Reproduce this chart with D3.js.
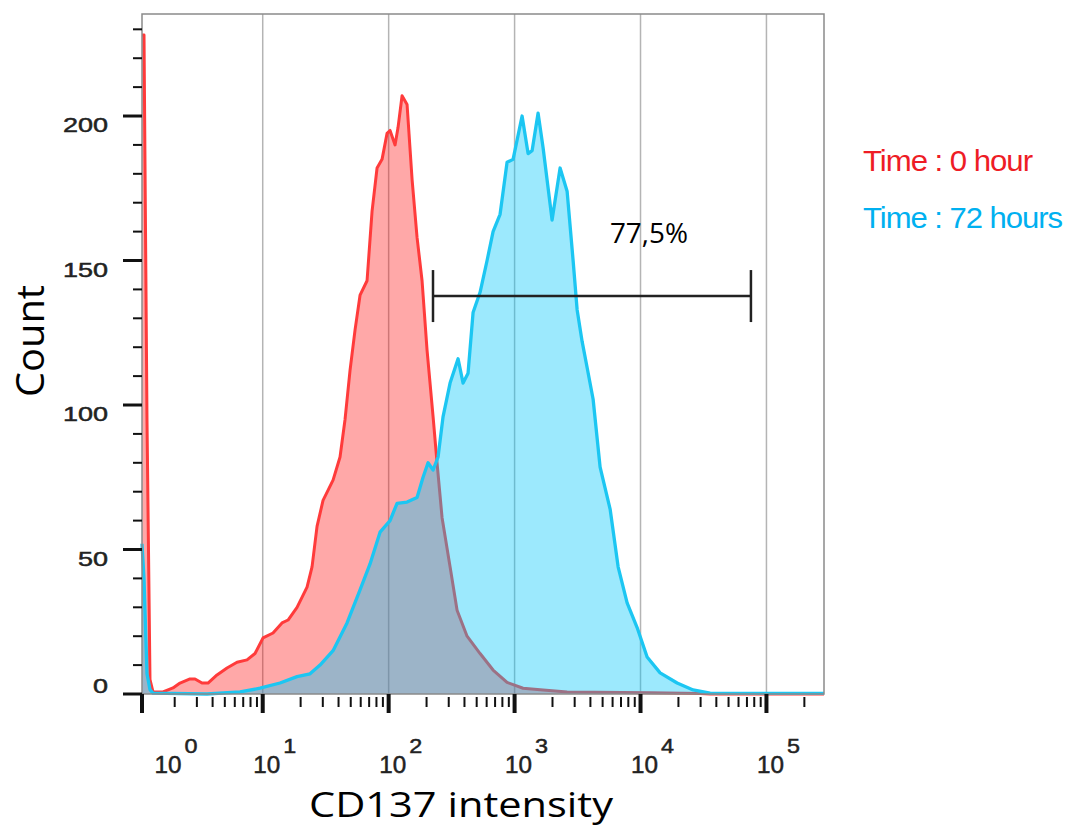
<!DOCTYPE html>
<html><head><meta charset="utf-8">
<script src="https://cdn.jsdelivr.net/npm/d3@7/dist/d3.min.js"></script>
<style>html,body{margin:0;padding:0;background:#fff;} svg{display:block;}</style>
</head><body><svg id="chart" width="1068" height="829"></svg>
<script>
// ---- data ----
const redIntensity = [1.100,1.141,1.205,1.273,1.345,1.615,1.939,2.204,2.646,2.900,3.295,3.678,4.335,5.205,6.250,7.505,8.687,10.06,12.07,14.23,15.89,18.73,22.49,24.64,27.00,30.13,36.18,41.11,45.05,49.36,54.10,59.27,67.36,73.82,80.89,88.62,97.12,102.6,112.4,118.7,127.8,140.0,153.5,168.1,184.2,201.8,225.3,242.3,265.6,307.4,349.4,419.5,532.1,674.9,871.6,1168,1684,2612,11920,29750,35710,286400];
const redCount     = [228,228,95,5,0.7,0.7,2.1,3.8,5.2,5.2,3.8,3.8,6.6,9,11,11.8,14,19.4,21.1,24.6,25.6,30,37,44,58,67,74,82,95,112,126,138,143,167,182,185,194,195,190,196,207,204,178,158,143,119,96,80,61,44,29,20,14,8.3,4,2,1.4,0.7,0.4,0.2,0,0];
const blueIntensity = [1.100,1.141,1.205,1.273,1.345,3.611,6.602,9.519,13.72,18.73,23.75,28.52,36.18,46.72,59.27,71.16,85.44,102.6,116.6,140.0,168.1,187.6,205.5,225.3,246.8,270.5,307.4,355.8,389.9,427.2,468.1,532.1,604.7,674.9,766.9,871.6,972.9,1147,1280,1377,1537,1684,1985,2298,2612,2915,3137,3437,3766,4203,4776,5735,6640,7827,9397,11280,14310,19530,26170,35710,89130,286400];
const blueCount     = [52,40,7,1.5,0.3,0,0.7,2,3.8,6,7,10,15,24.6,36,45,56,60,66,66.4,68,75,80,77.5,82,96,107.6,116,107.6,111,132,139,150,160,166,184,185,200,187,188,201,189,164,182,174,150,133,122,113,102,78.5,64,44,31.5,23,12.8,7.3,3.8,1.4,0.3,0.2,0.2];

const yMajorTicks = [0, 50, 100, 150, 200];
const yMinorStep = 10;
const xDecades = [1, 10, 100, 1000, 10000, 100000];
const xDecadeExponents = ["0", "1", "2", "3", "4", "5"];
const legendLabels = ["Time : 0 hour", "Time : 72 hours"];
const gateRange = [225, 75300];
const gateCount = 137.7;
const gateLabel = "77,5%";
const xTitle = "CD137 intensity";
const yTitle = "Count";

// ---- layout ----
const L = 142, R = 824, T = 14, B = 694;
const svg = d3.select("#chart");
svg.append("rect").attr("width",1068).attr("height",829).attr("fill","#fff");

const x = d3.scaleLog().domain([1.1, 286400]).range([L, R]);
const y = d3.scaleLinear().domain([0, 235.3]).range([B, T]);

const red = redIntensity.map((v,i)=>[v, redCount[i]]);
const blue = blueIntensity.map((v,i)=>[v, blueCount[i]]);

// grid lines
svg.append("g").selectAll("line")
  .data(xDecades.filter(d => x(d) > L + 1 && x(d) < R))
  .join("line")
  .attr("x1", d=>x(d)).attr("x2", d=>x(d))
  .attr("y1", T).attr("y2", B)
  .attr("stroke", "#b4b4b4").attr("stroke-width", 1.5);

const area = d3.area().x(d=>x(d[0])).y0(y(0)).y1(d=>y(d[1]));
const line = d3.line().x(d=>x(d[0])).y(d=>y(d[1]));

const plot = svg.append("g");
plot.append("path").datum(red).attr("d", area)
  .attr("fill", "rgb(255,0,0)").attr("fill-opacity", 0.34);
plot.append("path").datum(red).attr("d", line)
  .attr("fill", "none").attr("stroke", "#ff3b3b").attr("stroke-width", 3)
  .attr("stroke-linejoin", "round");
plot.append("path").datum(blue).attr("d", area)
  .attr("fill", "rgb(0,198,250)").attr("fill-opacity", 0.39);
plot.append("path").datum(blue).attr("d", line)
  .attr("fill", "none").attr("stroke", "#1cc6f2").attr("stroke-width", 3.3)
  .attr("stroke-linejoin", "round");

// frame
svg.append("rect").attr("x", L).attr("y", T).attr("width", R-L).attr("height", B-T)
  .attr("fill", "none").attr("stroke", "#8a8a8a").attr("stroke-width", 1.5);

// y ticks
const yMinor = d3.range(0, y.domain()[1], yMinorStep).filter(v => !yMajorTicks.includes(v));
svg.append("g").selectAll("line").data(yMinor).join("line")
  .attr("x1", L-9).attr("x2", L).attr("y1", d=>y(d)).attr("y2", d=>y(d))
  .attr("stroke", "#111").attr("stroke-width", 2);
svg.append("g").selectAll("line").data(yMajorTicks).join("line")
  .attr("x1", L-19).attr("x2", L).attr("y1", d=>y(d)).attr("y2", d=>y(d))
  .attr("stroke", "#111").attr("stroke-width", 3);
svg.append("g").selectAll("text").data(yMajorTicks).join("text")
  .attr("x", 108).attr("y", d => Math.min(y(d) + 16, B - 1))
  .attr("text-anchor", "end")
  .attr("font-family", "'Liberation Sans', Arial, sans-serif").attr("font-size", 21)
  .attr("fill", "#222").attr("stroke", "#222").attr("stroke-width", 0.5)
  .attr("textLength", d => String(d).length * 15).attr("lengthAdjust", "spacingAndGlyphs")
  .text(d => d);

// x ticks
const xMinor = [];
xDecades.forEach(dec => { for (let k = 2; k <= 9; k++) { const v = dec * k; if (v > x.domain()[0] && v < x.domain()[1]) xMinor.push(v); } });
svg.append("g").selectAll("line").data(xMinor).join("line")
  .attr("x1", d=>x(d)).attr("x2", d=>x(d)).attr("y1", B+3).attr("y2", B+13)
  .attr("stroke", "#111").attr("stroke-width", 2);
const xMajorPos = [x.domain()[0]].concat(xDecades.filter(d => d > x.domain()[0] && d < x.domain()[1]));
svg.append("g").selectAll("line").data(xMajorPos).join("line")
  .attr("x1", d=>x(d)).attr("x2", d=>x(d)).attr("y1", B).attr("y2", B+19)
  .attr("stroke", "#111").attr("stroke-width", 4);

const xl = svg.append("g").attr("font-family", "'Liberation Sans', Arial, sans-serif")
  .attr("fill", "#222").attr("stroke", "#222").attr("stroke-width", 0.5);
xDecades.forEach((d, i) => {
  const px = Math.max(x(d), L + 22);
  xl.append("text").attr("x", px + 4).attr("y", 773).attr("text-anchor", "middle")
    .attr("font-size", 24).attr("textLength", 27).attr("lengthAdjust", "spacingAndGlyphs").text("10");
  xl.append("text").attr("x", px + 27).attr("y", 753).attr("text-anchor", "middle")
    .attr("font-size", 21).attr("textLength", 13).attr("lengthAdjust", "spacingAndGlyphs").text(xDecadeExponents[i]);
});

// axis titles
svg.append("text").attr("x", 461).attr("y", 817).attr("text-anchor", "middle")
  .attr("font-family", "'Open Sans', 'Noto Sans', sans-serif").attr("font-size", 35).attr("fill", "#000")
  .attr("textLength", 304).attr("lengthAdjust", "spacingAndGlyphs").text(xTitle);
svg.append("text").attr("transform", "translate(44,341) rotate(-90)").attr("text-anchor", "middle")
  .attr("font-family", "'Open Sans', 'Noto Sans', sans-serif").attr("font-size", 39).attr("fill", "#000")
  .attr("textLength", 112).attr("lengthAdjust", "spacingAndGlyphs").text(yTitle);

// gate
const gy = y(gateCount);
const g = svg.append("g").attr("stroke", "#222").attr("stroke-width", 2.5);
g.append("line").attr("x1", x(gateRange[0])).attr("x2", x(gateRange[1])).attr("y1", gy).attr("y2", gy);
gateRange.forEach(v => g.append("line").attr("x1", x(v)).attr("x2", x(v)).attr("y1", gy-26).attr("y2", gy+26));
svg.append("text").attr("x", x(gateRange[1]) - 63).attr("y", gy - 53).attr("text-anchor", "end")
  .attr("font-family", "'Open Sans', 'Noto Sans', sans-serif").attr("font-size", 27).attr("fill", "#000")
  .attr("textLength", 78).attr("lengthAdjust", "spacingAndGlyphs").text(gateLabel);

// legend
const legendColors = ["#ee1c25", "#00b0f0"];
const legendWidths = [169, 199];
legendLabels.forEach((t, i) => {
  svg.append("text").attr("x", 863).attr("y", 171 + i*57)
    .attr("font-family", "'Liberation Sans', Arial, sans-serif").attr("font-size", 30)
    .attr("fill", legendColors[i]).attr("letter-spacing", -1)
    .attr("textLength", legendWidths[i]).attr("lengthAdjust", "spacingAndGlyphs").text(t);
});
</script></body></html>
